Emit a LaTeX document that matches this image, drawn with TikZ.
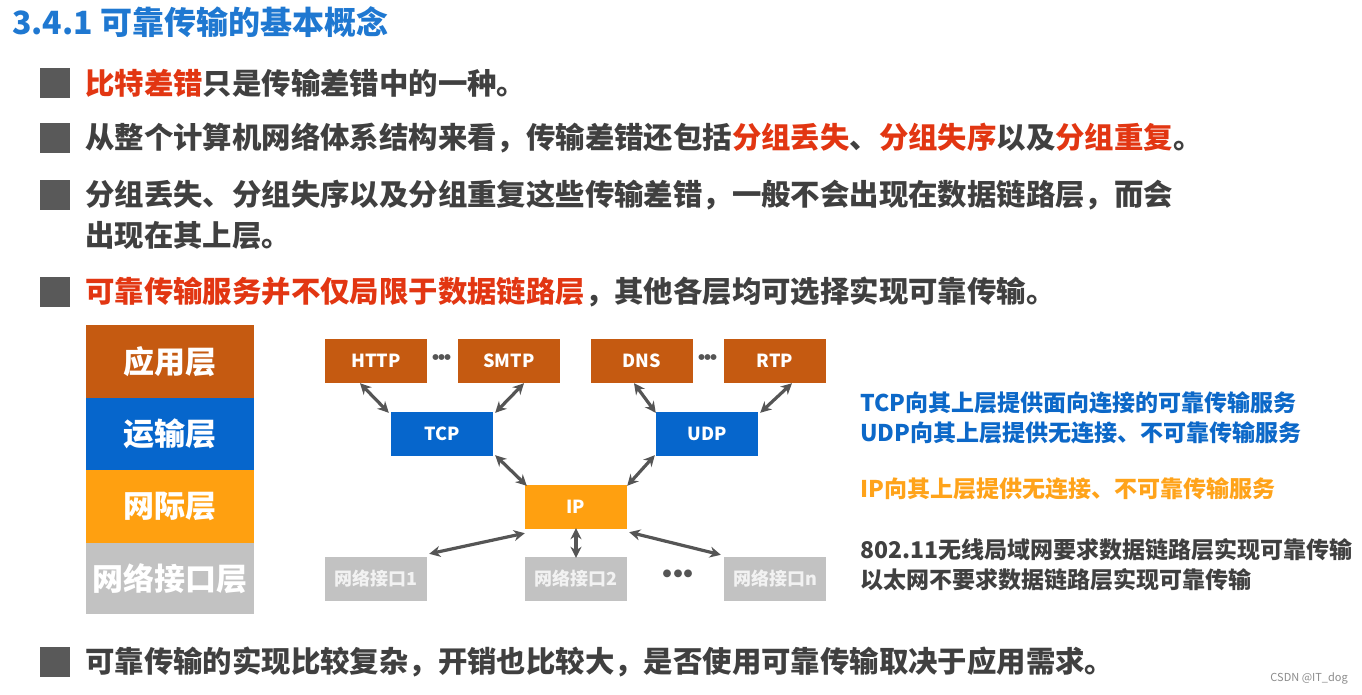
\documentclass[tikz,border=0pt]{standalone}
\usepackage{fontspec}
\setmainfont{Noto Sans CJK SC}
\usetikzlibrary{arrows.meta}
\definecolor{titleblue}{RGB}{31,120,209}
\definecolor{txtgray}{RGB}{64,64,64}
\definecolor{bulgray}{RGB}{89,89,89}
\definecolor{hired}{RGB}{226,54,18}
\definecolor{appbrown}{RGB}{197,90,17}
\definecolor{trblue}{RGB}{6,102,204}
\definecolor{ipor}{RGB}{255,160,16}
\definecolor{nigray}{RGB}{194,194,194}
\definecolor{arrgray}{RGB}{85,85,85}
\definecolor{rtblue}{RGB}{12,104,200}
\definecolor{rtor}{RGB}{255,163,26}
\newcommand{\tightdots}[1]{·\kern-#1em·\kern-#1em·}
\begin{document}
\begin{tikzpicture}[x=1pt,y=-1pt,
  bul/.style={fill=bulgray,minimum width=30pt,minimum height=30pt,inner sep=0pt},
  btext/.style={anchor=west,inner sep=0pt,text=txtgray,font=\fontsize{29.4}{34}\selectfont\bfseries},
  layer/.style={minimum width=168pt,minimum height=72.5pt,inner sep=0pt,text=white,font=\fontsize{31}{34}\selectfont\bfseries},
  pbox/.style={minimum width=102pt,minimum height=44pt,inner sep=0pt,text=white,font=\fontsize{18}{20}\selectfont\bfseries},
  dar/.style={draw=arrgray,line width=3.2pt,{Stealth[length=11pt,width=11pt]}-{Stealth[length=11pt,width=11pt]}},
  dots/.style={inner sep=0pt,text=arrgray,font=\fontsize{21}{24}\selectfont\bfseries},
  bigdots/.style={inner sep=0pt,text=arrgray,font=\fontsize{28}{30}\selectfont\bfseries},
  rtext/.style={anchor=west,inner sep=0pt,font=\fontsize{23}{26}\selectfont\bfseries}]
\path[fill=white,use as bounding box] (0,0) rectangle (1362,694);
% title
\node[anchor=west,inner sep=0pt,text=titleblue,font=\fontsize{32}{36}\selectfont\bfseries] (title) at (12,22) {3.4.1 可靠传输的基本概念};
% bullets
\node[bul] (b1) at (55,83) {};
\node[btext] (t1) at (85,83) {\textcolor{hired}{比特差错}只是传输差错中的一种。};
\node[bul] (b2) at (55,138) {};
\node[btext] (t2) at (85,138) {从整个计算机网络体系结构来看，传输差错还包括\textcolor{hired}{分组丢失}、\textcolor{hired}{分组失序}以及\textcolor{hired}{分组重复}。};
\node[bul] (b3) at (55,195) {};
\node[btext] (t3) at (85,195) {分组丢失、分组失序以及分组重复这些传输差错，一般不会出现在数据链路层，而会};
\node[btext] (t3b) at (85,235) {出现在其上层。};
\node[bul] (b4) at (55,292) {};
\node[btext] (t4) at (85,292) {\textcolor{hired}{可靠传输服务并不仅局限于数据链路层}，其他各层均可选择实现可靠传输。};
\node[bul] (b5) at (55,662) {};
\node[btext] (t5) at (85,662) {可靠传输的实现比较复杂，开销也比较大，是否使用可靠传输取决于应用需求。};
% layer stack
\node[layer,fill=appbrown] (la) at (170,361.5) {应用层};
\node[layer,fill=trblue] (lt) at (170,434) {运输层};
\node[layer,fill=ipor] (li) at (170,506.5) {网际层};
\node[layer,fill=nigray,minimum height=71pt] (ln) at (170,578.5) {网络接口层};
% protocol boxes
\node[pbox,fill=appbrown] (http) at (376,361) {HTTP};
\node[pbox,fill=appbrown] (smtp) at (509,361) {SMTP};
\node[pbox,fill=appbrown] (dns) at (642,361) {DNS};
\node[pbox,fill=appbrown] (rtp) at (775,361) {RTP};
\node[dots] (d1) at (442,360) {\tightdots{0.7}};
\node[dots] (d2) at (708,360) {\tightdots{0.7}};
\node[pbox,fill=trblue] (tcp) at (442,434) {TCP};
\node[pbox,fill=trblue] (udp) at (707,434) {UDP};
\node[pbox,fill=ipor] (ip) at (576,507) {IP};
\node[pbox,fill=nigray,text=white!95!black] (n1) at (376,579) {网络接口1};
\node[pbox,fill=nigray,text=white!95!black] (n2) at (576,579) {网络接口2};
\node[pbox,fill=nigray,text=white!95!black] (nn) at (775,579) {网络接口n};
\node[bigdots] (d3) at (678,577) {\tightdots{0.64}};
% arrows
\draw[dar] ([xshift=-16pt]http.south) -- ([xshift=-2pt,yshift=-1pt]tcp.north west);
\draw[dar] ([xshift=15pt]smtp.south) -- ([xshift=2pt,yshift=-1pt]tcp.north east);
\draw[dar] ([xshift=-8pt]dns.south) -- ([xshift=0pt,yshift=-1pt]udp.north west);
\draw[dar] ([xshift=17pt]rtp.south) -- ([xshift=2pt,yshift=-1pt]udp.north east);
\draw[dar] ([xshift=2pt,yshift=1pt]tcp.south east) -- ([xshift=2pt,yshift=-1pt]ip.north west);
\draw[dar] ([xshift=-1pt,yshift=1pt]udp.south west) -- ([xshift=0pt,yshift=-1pt]ip.north east);
\draw[dar] ([yshift=-4pt]ip.south west) -- ([xshift=2pt,yshift=3pt]n1.north east);
\draw[dar] ([yshift=1pt]ip.south) -- ([yshift=-1pt]n2.north);
\draw[dar] ([xshift=2pt,yshift=-3pt]ip.south east) -- ([xshift=-3pt,yshift=2pt]nn.north west);
% right-hand notes
\node[rtext,text=rtblue] (r1) at (860,403) {TCP向其上层提供面向连接的可靠传输服务};
\node[rtext,text=rtblue] (r2) at (860,433) {UDP向其上层提供无连接、不可靠传输服务};
\node[rtext,text=rtor] (r3) at (860,489) {IP向其上层提供无连接、不可靠传输服务};
\node[rtext,text=txtgray] (r4) at (860,550) {802.11无线局域网要求数据链路层实现可靠传输};
\node[rtext,text=txtgray] (r5) at (860,580) {以太网不要求数据链路层实现可靠传输};
% watermark
\node[anchor=east,inner sep=0pt,text=black!45,font=\fontsize{11}{12}\selectfont] (wm) at (1348,678) {CSDN @IT\_dog};
\end{tikzpicture}
\end{document}
